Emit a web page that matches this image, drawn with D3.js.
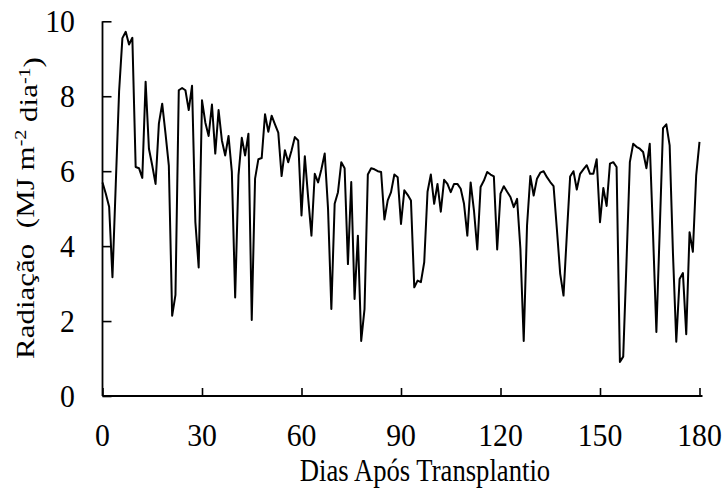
<!DOCTYPE html>
<html>
<head>
<meta charset="utf-8">
<script src="https://cdn.jsdelivr.net/npm/d3@7"></script>
<style>
  html, body { margin: 0; padding: 0; background: #fff; }
  svg text { font-family: "Liberation Serif", "Times New Roman", serif; fill: #000; }
</style>
</head>
<body>
<svg id="chart" width="728" height="496"></svg>
<script>
// ---- Data ----
const days = d3.range(0, 181);
const radiacao = [
  5.70, 5.40, 5.05, 3.17, 5.65, 8.12, 9.55, 9.72, 9.38, 9.56,
  6.11, 6.08, 5.82, 8.39, 6.60, 6.15, 5.66, 7.27, 7.80, 7.00,
  6.15, 2.14, 2.70, 8.16, 8.22, 8.16, 7.63, 8.28, 4.64, 3.43,
  7.89, 7.30, 6.94, 7.78, 6.47, 7.63, 6.82, 6.42, 6.94, 5.98,
  2.63, 5.89, 6.89, 6.42, 7.00, 2.03, 5.80, 6.32, 6.35, 7.52,
  7.05, 7.48, 7.25, 7.03, 5.87, 6.56, 6.24, 6.55, 6.91, 6.82,
  4.82, 6.40, 5.30, 4.28, 5.93, 5.70, 6.05, 6.47, 5.00, 2.32,
  5.13, 5.44, 6.24, 6.08, 3.52, 5.71, 2.59, 4.28, 1.47, 2.32,
  5.91, 6.08, 6.05, 6.00, 5.98, 4.71, 5.22, 5.44, 5.91, 5.84,
  4.59, 5.49, 5.37, 5.22, 2.90, 3.08, 3.04, 3.57, 5.45, 5.91,
  5.13, 5.66, 4.92, 5.77, 5.66, 5.44, 5.66, 5.66, 5.53, 5.13,
  4.28, 5.70, 4.95, 3.91, 5.58, 5.75, 5.98, 5.91, 5.86, 3.91,
  5.40, 5.60, 5.45, 5.31, 5.04, 5.26, 3.93, 1.47, 4.55, 5.87,
  5.35, 5.80, 5.96, 6.00, 5.84, 5.71, 5.60, 4.45, 3.26, 2.68,
  4.30, 5.86, 6.00, 5.51, 5.93, 6.05, 6.16, 5.93, 5.93, 6.32,
  4.64, 5.55, 5.07, 6.20, 6.24, 6.11, 0.91, 1.05, 3.60, 6.24,
  6.73, 6.65, 6.60, 6.51, 6.08, 6.73, 4.30, 1.71, 4.40, 7.15,
  7.25, 6.69, 3.80, 1.45, 3.12, 3.28, 1.65, 4.37, 3.85, 5.89,
  6.78
];
const xTicks = [0, 30, 60, 90, 120, 150, 180];
const yTicks = [0, 2, 4, 6, 8, 10];
const xTitle = "Dias Após Transplantio";

// ---- Layout ----
const svg = d3.select("#chart");
const x = d3.scaleLinear().domain([0, 180]).range([102.5, 699.5]);
const y = d3.scaleLinear().domain([0, 10]).range([396, 21.3]);

// axes (inward ticks)
const xAxis = d3.axisBottom(x).tickValues(xTicks).tickSizeInner(-8).tickSizeOuter(0).tickFormat("");
const yAxis = d3.axisLeft(y).tickValues(yTicks).tickSizeInner(-9).tickSizeOuter(0).tickFormat("");

const gx = svg.append("g").attr("transform", `translate(0,${y(0)})`).call(xAxis);
const gy = svg.append("g").attr("transform", `translate(${x(0)},0)`).call(yAxis);
gx.select(".domain").remove();
gy.select(".domain").remove();
gx.selectAll(".tick line").attr("stroke", "#000").attr("stroke-width", 1.6);
gy.selectAll(".tick line").attr("stroke", "#000").attr("stroke-width", 1.6);

// axis lines
svg.append("line").attr("x1", x(0)).attr("x2", x(180) + 3).attr("y1", y(0)).attr("y2", y(0))
  .attr("stroke", "#000").attr("stroke-width", 1.8);
svg.append("line").attr("x1", x(0)).attr("x2", x(0)).attr("y1", y(10)).attr("y2", y(0))
  .attr("stroke", "#000").attr("stroke-width", 1.8);

// tick labels
const kx = 0.93;
svg.append("g").selectAll("text").data(xTicks).join("text")
  .attr("transform", d => `translate(${x(d)},446) scale(${kx},1)`)
  .attr("text-anchor", "middle")
  .style("font-size", "32px")
  .text(d => d);

svg.append("g").selectAll("text").data(yTicks).join("text")
  .attr("transform", d => `translate(75,${y(d) + 11}) scale(${kx},1)`)
  .attr("text-anchor", "end")
  .style("font-size", "32px")
  .text(d => d);

// x title
svg.append("text")
  .attr("transform", `translate(425,481) scale(0.86,1)`)
  .attr("text-anchor", "middle")
  .style("font-size", "31px")
  .text(xTitle);

// y title
const yt = svg.append("text")
  .attr("transform", `translate(33.5,208) scale(0.8,1) rotate(-90)`)
  .attr("text-anchor", "middle")
  .style("font-size", "31px")
  .style("white-space", "pre");
yt.append("tspan").text("Radiação  (MJ m");
yt.append("tspan").attr("dy", "-0.45em").style("font-size", "20px").text("-2");
yt.append("tspan").attr("dy", "0.45em").text(" dia");
yt.append("tspan").attr("dy", "-0.45em").style("font-size", "20px").text("-1");
yt.append("tspan").attr("dy", "0.45em").text(")");

// line
const line = d3.line()
  .x((d, i) => x(days[i]))
  .y(d => y(d));
svg.append("path")
  .datum(radiacao)
  .attr("fill", "none")
  .attr("stroke", "#000")
  .attr("stroke-width", 2)
  .attr("stroke-linejoin", "round")
  .attr("d", line);
</script>
</body>
</html>
